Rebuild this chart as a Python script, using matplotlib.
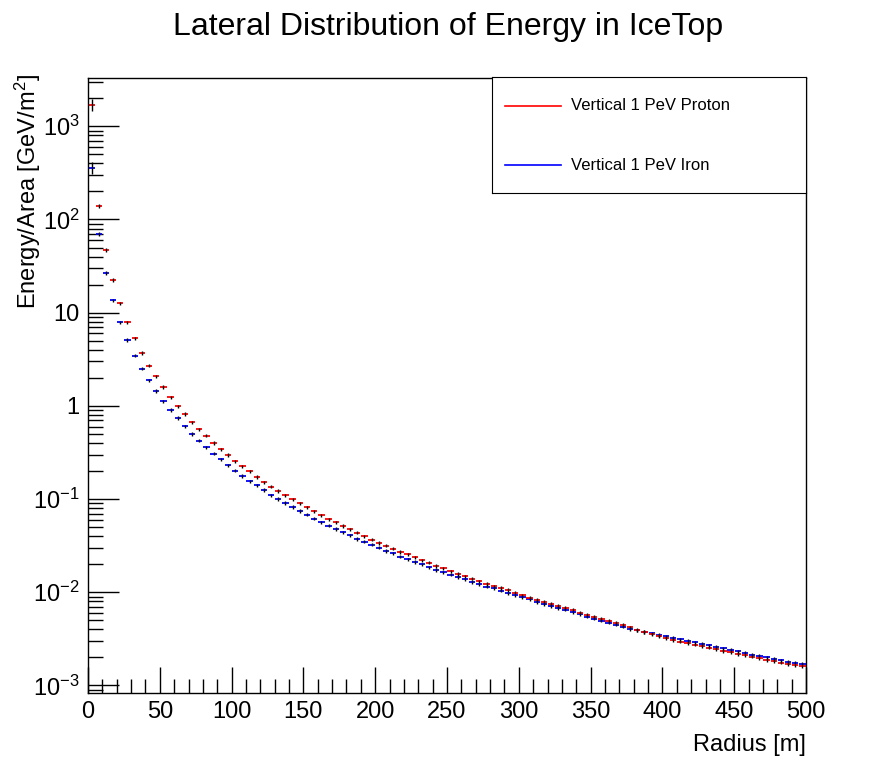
import numpy as np
import matplotlib
matplotlib.use("Agg")
import matplotlib.pyplot as plt
from matplotlib.ticker import FixedLocator, MultipleLocator, NullFormatter

plt.rcParams["font.family"] = ["Liberation Sans", "DejaVu Sans"]
plt.rcParams["mathtext.fontset"] = "custom"
plt.rcParams["mathtext.rm"] = "Liberation Sans"
plt.rcParams["mathtext.it"] = "Liberation Sans"
plt.rcParams["mathtext.default"] = "regular"

# 100 bins of 5 m from 0 to 500 m
bin_edges = np.arange(0, 505, 5)

proton = [1700, 140, 47, 22.5, 12.6, 7.9, 5.3, 3.7, 2.7, 2.08,
          1.60, 1.24, 0.99, 0.82, 0.67, 0.56, 0.48, 0.40, 0.343, 0.298,
          0.255, 0.225, 0.199, 0.173, 0.152, 0.136, 0.122, 0.110, 0.0998, 0.0903,
          0.0818, 0.0741, 0.0672, 0.0608, 0.0562, 0.0515, 0.0475, 0.0437, 0.0400, 0.0367,
          0.0339, 0.0317, 0.0294, 0.0271, 0.0256, 0.0238, 0.0221, 0.0207, 0.0192, 0.0180,
          0.0168, 0.0157, 0.0149, 0.0140, 0.0131, 0.0123, 0.0116, 0.0111, 0.0106, 0.00993,
          0.00931, 0.00877, 0.00828, 0.00788, 0.00751, 0.00715, 0.00686, 0.00648, 0.00606, 0.00577,
          0.00548, 0.00522, 0.00497, 0.00473, 0.00447, 0.00423, 0.00395, 0.00376, 0.00355, 0.00338,
          0.00322, 0.00307, 0.00296, 0.00285, 0.00274, 0.00264, 0.00254, 0.00245, 0.00235, 0.00226,
          0.00218, 0.00210, 0.00203, 0.00195, 0.00188, 0.00181, 0.00175, 0.00168, 0.00164, 0.00160]

iron = [358, 70, 26.7, 13.6, 7.9, 5.1, 3.47, 2.51, 1.89, 1.45,
        1.12, 0.906, 0.743, 0.605, 0.501, 0.425, 0.361, 0.308, 0.268, 0.231,
        0.202, 0.177, 0.156, 0.140, 0.125, 0.110, 0.100, 0.091, 0.0825, 0.0747,
        0.0682, 0.0618, 0.0565, 0.0520, 0.0479, 0.0441, 0.0410, 0.0374, 0.0350, 0.0323,
        0.0302, 0.0278, 0.0263, 0.0242, 0.0227, 0.0212, 0.0200, 0.0186, 0.0174, 0.0164,
        0.0154, 0.0146, 0.0138, 0.0129, 0.0122, 0.0115, 0.0110, 0.0104, 0.00978, 0.00931,
        0.00886, 0.00843, 0.00788, 0.00745, 0.00715, 0.00680, 0.00648, 0.00611, 0.00582, 0.00548,
        0.00522, 0.00497, 0.00473, 0.00450, 0.00428, 0.00405, 0.00390, 0.00376, 0.00362, 0.00349,
        0.00336, 0.00324, 0.00313, 0.00301, 0.00290, 0.00279, 0.00269, 0.00259, 0.00250, 0.00241,
        0.00232, 0.00224, 0.00215, 0.00208, 0.00200, 0.00193, 0.00186, 0.00179, 0.00175, 0.00171]

# relative statistical errors
rel_err_first = 0.15
rel_err = 0.04

legend_labels = ["Vertical 1 PeV Proton", "Vertical 1 PeV Iron"]

fig = plt.figure(figsize=(8.96, 7.72), dpi=100)
ax = fig.add_axes([0.0982, 0.1023, 0.8014, 0.7967])

lo = bin_edges[:-1]
hi = bin_edges[1:]
mid = (lo + hi) / 2
for vals, col in [(iron, "blue"), (proton, "red")]:
    v = np.array(vals)
    err = v * rel_err
    err[0] = v[0] * rel_err_first
    ax.hlines(v, lo + 0.3, hi - 0.3, colors=col, lw=1.3, zorder=2)
    ax.vlines(mid, v - err, v + err, colors="black", lw=1.0, zorder=3)

ax.set_yscale("log")
ax.set_xlim(0, 500)
ax.set_ylim(8.3e-4, 3300)

ymaj = [1e-3, 1e-2, 1e-1, 1, 10, 1e2, 1e3]
ylab = ["$10^{-3}$", "$10^{-2}$", "$10^{-1}$", "1", "10", "$10^{2}$", "$10^{3}$"]
ax.yaxis.set_major_locator(FixedLocator(ymaj))
ax.set_yticklabels(ylab)
ax.yaxis.set_minor_locator(matplotlib.ticker.LogLocator(base=10, subs=np.arange(2, 10), numticks=20))
ax.yaxis.set_minor_formatter(NullFormatter())
ax.xaxis.set_major_locator(MultipleLocator(50))
ax.xaxis.set_minor_locator(MultipleLocator(10))

ax.tick_params(which="both", direction="in", top=False, right=False, labelsize=17, width=1.0)
ax.tick_params(axis="y", which="major", length=22, pad=6)
ax.tick_params(axis="y", which="minor", length=11)
ax.tick_params(axis="x", which="major", length=19, pad=6)
ax.tick_params(axis="x", which="minor", length=10)
for s in ax.spines.values():
    s.set_linewidth(1.0)

fig.text(0.5, 0.965, "Lateral Distribution of Energy in IceTop", ha="center", va="center", fontsize=23)
ax.set_xlabel("Radius [m]", fontsize=17, loc="right", labelpad=8)
fig.text(28 / 896, 1 - 74 / 772, "Energy/Area [GeV/m$^{2}$]", rotation=90,
         ha="center", va="top", fontsize=17)

# legend box
lax = fig.add_axes([492 / 896, 1 - 193 / 772, 314 / 896, 116 / 772])
lax.set_xlim(0, 1)
lax.set_ylim(0, 1)
lax.set_xticks([])
lax.set_yticks([])
for yy, col, lab in [(0.75, "red", legend_labels[0]), (0.24, "blue", legend_labels[1])]:
    lax.plot([0.04, 0.22], [yy, yy], color=col, lw=1.2)
    lax.text(0.25, yy, lab, va="center", ha="left", fontsize=12)

fig.savefig("out.png", dpi=100)
